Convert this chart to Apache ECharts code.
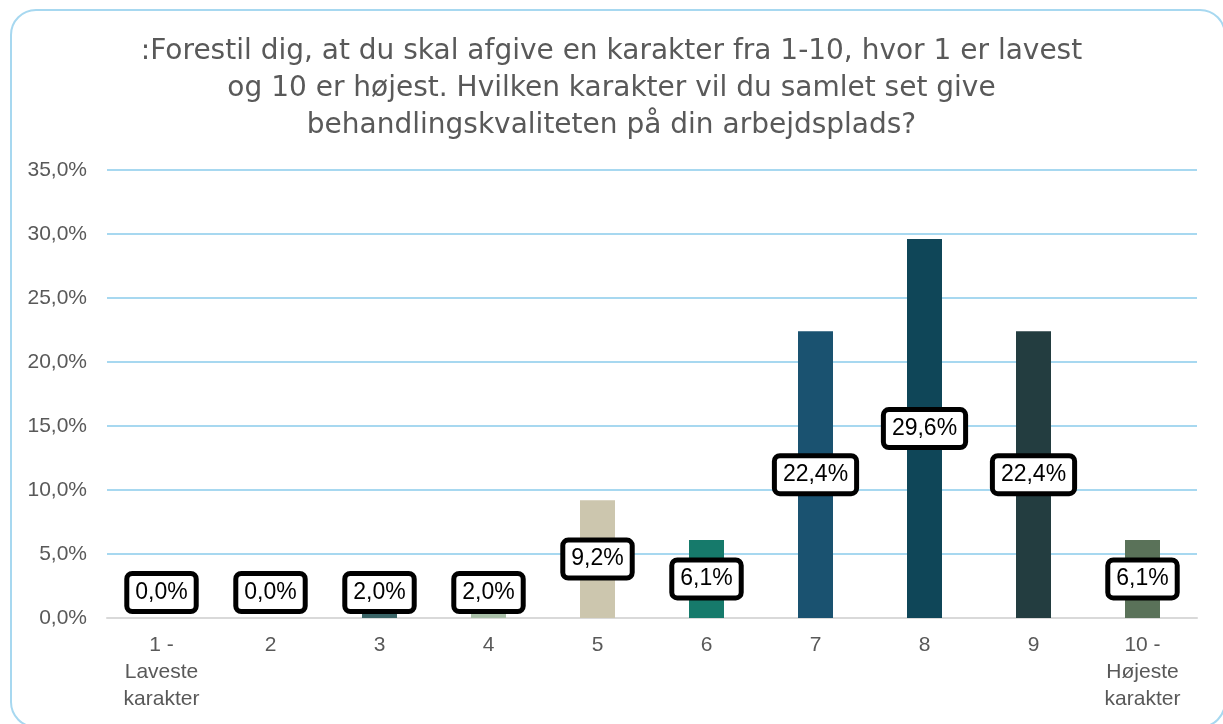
<!DOCTYPE html>
<html>
<head>
<meta charset="utf-8">
<script src="https://cdn.jsdelivr.net/npm/echarts@6/dist/echarts.min.js"></script>
<style>
  html, body { margin: 0; padding: 0; background: #fff; }
  #chart-box { width: 1223px; height: 724px; }
</style>
</head>
<body>
<div id="chart-box"></div>
<script>
const titleText = ':Forestil dig, at du skal afgive en karakter fra 1-10, hvor 1 er lavest\nog 10 er højest. Hvilken karakter vil du samlet set give\nbehandlingskvaliteten på din arbejdsplads?'
const categories = ['1 -\nLaveste\nkarakter', '2', '3', '4', '5', '6', '7', '8', '9', '10 -\nHøjeste\nkarakter']
const values = [0.0, 0.0, 2.0, 2.0, 9.2, 6.1, 22.4, 29.6, 22.4, 6.1]
const barColors = ['#3A6466', '#3A6466', '#3A6466', '#A9BFA8', '#CCC6AE', '#167A6B', '#1A5270', '#0F4658', '#233D40', '#5A7259']

const fmt = v => v.toFixed(1).replace('.', ',') + '%'
const font = 'Liberation Sans'

let chart = echarts.init(document.getElementById('chart-box'))
chart.setOption({
    animation: false,
    textStyle: {fontFamily: font},
    graphic: [{
        type: 'rect',
        shape: {x: 11, y: 10, width: 1214, height: 717, r: 25},
        style: {fill: 'none', stroke: '#A7D8F0', lineWidth: 2},
        silent: true
    }],
    title: {
        text: titleText,
        left: 'center',
        top: 28,
        textStyle: {
            fontFamily: 'DejaVu Sans',
            fontSize: 28,
            lineHeight: 37,
            fontWeight: 'normal',
            color: '#595959'
        }
    },
    grid: {left: 107, right: 26, top: 170, bottom: 106},
    xAxis: {
        type: 'category',
        data: categories,
        axisLine: {lineStyle: {color: '#D9D9D9', width: 2}},
        axisTick: {show: false},
        axisLabel: {
            color: '#595959',
            fontSize: 21,
            lineHeight: 27,
            margin: 14,
            interval: 0
        }
    },
    yAxis: {
        type: 'value',
        min: 0,
        max: 35,
        interval: 5,
        axisLine: {show: false},
        axisTick: {show: false},
        splitLine: {lineStyle: {color: '#A7D8F0', width: 2}},
        axisLabel: {
            color: '#595959',
            fontSize: 21,
            margin: 20,
            formatter: v => fmt(v)
        }
    },
    series: [{
        type: 'bar',
        barWidth: 35,
        data: values.map((v, i) => {
            let item = {value: v, itemStyle: {color: barColors[i]}}
            // small bars: Excel pushes the label up so it stays above the axis
            if (v < 4) item.label = {position: 'insideBottom', distance: 9}
            return item
        }),
        label: {
            show: true,
            position: 'inside',
            formatter: p => fmt(p.value),
            color: '#000',
            fontSize: 23,
            lineHeight: 26,
            fontFamily: font,
            backgroundColor: '#fff',
            borderColor: '#000',
            borderWidth: 5,
            borderRadius: 3,
            padding: [4, 6, 3, 6]
        }
    }]
})
</script>
</body>
</html>
